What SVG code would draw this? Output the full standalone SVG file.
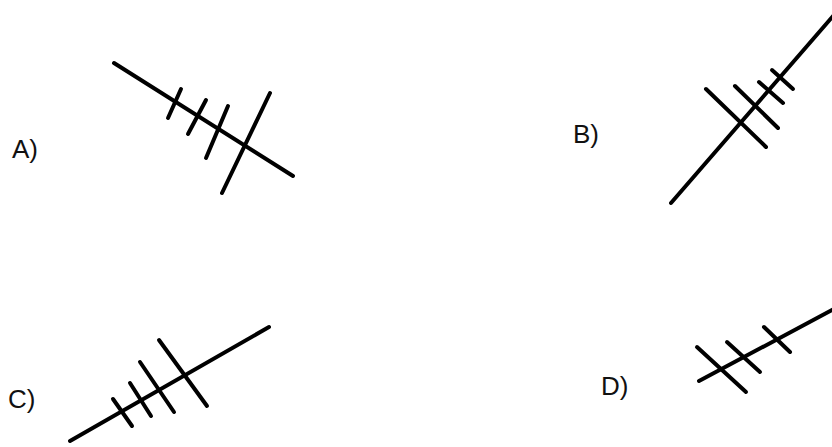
<svg xmlns="http://www.w3.org/2000/svg" width="832" height="447" viewBox="0 0 832 447">
<style>
.l{stroke:#000;stroke-width:4;stroke-linecap:round;fill:none}
.t{font-family:"Liberation Sans",Arial,sans-serif;font-size:26px;fill:#111}
</style>
<rect width="832" height="447" fill="#fff"/>
<g id="A">
<line class="l" x1="114" y1="63" x2="293" y2="176"/>
<line class="l" x1="181" y1="89" x2="168" y2="118"/>
<line class="l" x1="206" y1="100" x2="188" y2="134"/>
<line class="l" x1="228" y1="106" x2="206" y2="158"/>
<line class="l" x1="270" y1="93" x2="222" y2="193"/>
<text class="t" x="12" y="158">A)</text>
</g>
<g id="B">
<line class="l" x1="671" y1="203" x2="834" y2="15"/>
<line class="l" x1="706" y1="89" x2="766" y2="147"/>
<line class="l" x1="735" y1="86" x2="778" y2="128"/>
<line class="l" x1="759" y1="82" x2="783" y2="103"/>
<line class="l" x1="772" y1="70" x2="793" y2="89"/>
<text class="t" x="573" y="143">B)</text>
</g>
<g id="C">
<line class="l" x1="70" y1="441" x2="269" y2="327"/>
<line class="l" x1="113" y1="399" x2="132" y2="426"/>
<line class="l" x1="130" y1="383" x2="151" y2="416"/>
<line class="l" x1="140" y1="362" x2="174" y2="412"/>
<line class="l" x1="159" y1="340" x2="207" y2="406"/>
<text class="t" x="8" y="408">C)</text>
</g>
<g id="D">
<line class="l" x1="699" y1="381" x2="834" y2="309"/>
<line class="l" x1="697" y1="347" x2="746" y2="392"/>
<line class="l" x1="727" y1="342" x2="760" y2="372"/>
<line class="l" x1="764" y1="327" x2="790" y2="352"/>
<text class="t" x="601" y="395">D)</text>
</g>
</svg>
